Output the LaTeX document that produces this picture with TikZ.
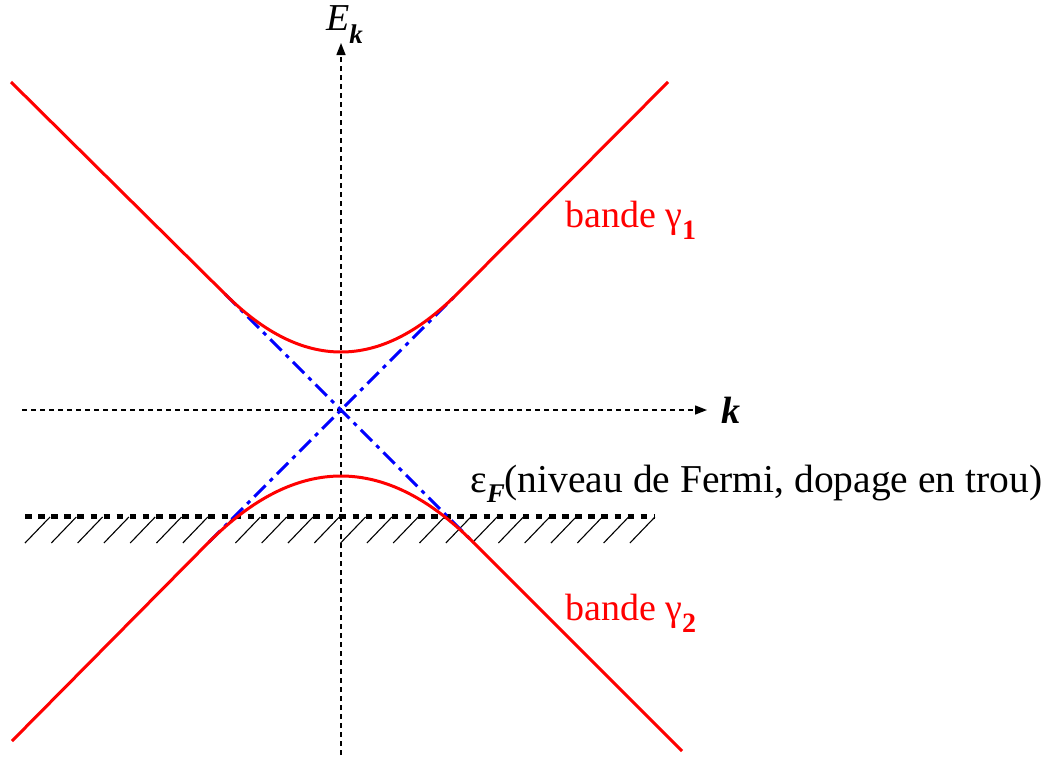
\documentclass[tikz,border=0pt]{standalone}
\usepackage{fontspec}
\setmainfont{Liberation Serif}
\usetikzlibrary{arrows.meta}
\definecolor{bandred}{RGB}{255,0,0}
\definecolor{asblue}{RGB}{0,0,255}
\tikzset{
  axisline/.style={black,line width=1.4pt,dash pattern=on 5pt off 4pt,-{Triangle[length=12pt,width=9pt]}},
  band/.style={bandred,line width=3pt},
  asym/.style={asblue,line width=3pt,dash pattern=on 16pt off 6pt on 4pt off 6pt},
  fermi/.style={black,line width=5pt,dash pattern=on 6.5pt off 6.6pt},
  hatch/.style={black,line width=1.1pt},
  lbl/.style={inner sep=0pt,anchor=base west,font=\fontsize{38}{40}\selectfont},
}
\newcommand{\lowsub}[2]{\raisebox{-#1pt}{#2}}
\begin{document}
\begin{tikzpicture}[x=1pt,y=-1pt]
\useasboundingbox (0,0) rectangle (1056,761);
% axes
\coordinate (kstart) at (22,410);
\coordinate (kend) at (707,410);
\coordinate (Estart) at (341,755);
\coordinate (Eend) at (341,43);
\draw[axisline] (kstart) -- (kend);
\draw[axisline] (Estart) -- (Eend);
\node[lbl] (Elab) at (326,30) {\textit{E}\lowsub{13}{\fontsize{27}{27}\selectfont\textbf{\textit{k}}}};
\node[lbl] (klab) at (721,423) {\textbf{\textit{k}}};
% hatching and Fermi level
\foreach \i in {0,...,23} \draw[hatch] ({25+26.3*\i},543) -- ++(25,-26);
\coordinate (fstart) at (25,516);
\coordinate (fend) at (655,516);
\draw[fermi] (fstart) -- (fend);
% asymptotes
\coordinate (ua) at (225,294);
\coordinate (ub) at (457,294);
\coordinate (la) at (209,542);
\coordinate (lb) at (473,542);
\draw[asym] (ua) -- (lb);
\draw[asym] (la) -- (ub);
% bands
\coordinate (u0) at (11,82);
\coordinate (u3) at (668,82);
\coordinate (l0) at (12,741);
\coordinate (l3) at (682,751);
\draw[band,line join=round] (u0) -- (ua) .. controls (302.33,371.33) and (379.67,371.33) .. (ub) -- (u3);
\draw[band,line join=round] (l0) -- (la) .. controls (297,454) and (385,454) .. (lb) -- (l3);
% labels
\node[lbl,text=bandred] (g1) at (565,227) {bande γ\lowsub{12}{\fontsize{28}{28}\selectfont\textbf{1}}};
\node[lbl,text=bandred] (g2) at (565,620) {bande γ\lowsub{12}{\fontsize{28}{28}\selectfont\textbf{2}}};
\node[lbl,font=\fontsize{39.5}{41}\selectfont] (ef) at (470,492) {ε\lowsub{10}{\fontsize{27}{27}\selectfont\textbf{\textit{F}}}(niveau de Fermi, dopage en trou)};
\end{tikzpicture}
\end{document}
